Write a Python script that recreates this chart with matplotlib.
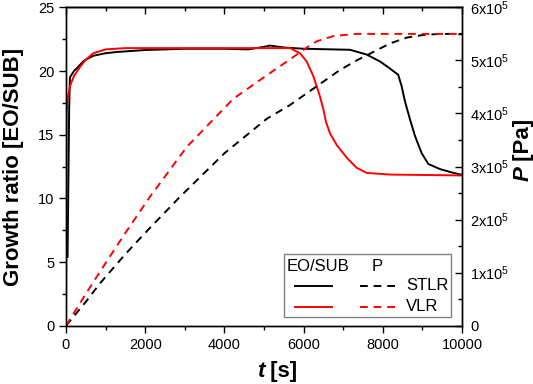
import numpy as np
import matplotlib
matplotlib.use("Agg")
import matplotlib.pyplot as plt
import matplotlib.ticker as mtick
from matplotlib.patches import Rectangle

plt.rcParams['font.family'] = ['Liberation Sans', 'DejaVu Sans']
plt.rcParams['mathtext.fontset'] = 'custom'
plt.rcParams['mathtext.rm'] = 'Liberation Sans'
plt.rcParams['mathtext.it'] = 'Liberation Sans:italic'
plt.rcParams['mathtext.bf'] = 'Liberation Sans:bold'

########## data
# growth ratio, STLR (black solid)
t_stlr = [40, 80, 100, 200, 300, 450, 690, 1000, 1300, 2000, 2500, 3000, 4000, 4600, 5000, 5150,
          5500, 6000, 7170, 7590, 7930, 8180, 8390, 8476, 8561, 8687, 8813, 8981, 9150,
          9444, 9781, 10000]
g_stlr = [5.4, 17.0, 19.5, 20.0, 20.3, 20.8, 21.2, 21.4, 21.5, 21.65, 21.7, 21.75, 21.75, 21.7, 21.9, 22.0,
          21.85, 21.75, 21.67, 21.3, 20.75, 20.2, 19.7, 18.8, 17.6, 16.2, 14.9, 13.55, 12.7,
          12.3, 12.0, 11.85]

# growth ratio, VLR (red solid)
t_vlr = [0, 10, 17, 40, 100, 200, 350, 500, 690, 1000, 1500, 3000, 5000, 5657, 5909, 6077,
         6246, 6414, 6498, 6566, 6667, 6835, 7088, 7340, 7593, 8182, 10000]
g_vlr = [0, 10.0, 16.7, 17.8, 18.8, 19.6, 20.3, 20.9, 21.4, 21.7, 21.8, 21.8, 21.8, 21.8, 21.4, 20.75,
         19.6, 18.0, 17.0, 16.0, 15.1, 14.2, 13.2, 12.4, 12.0, 11.87, 11.8]

# pressure [x1e5 Pa], STLR (black dashed)
tp_stlr = [0, 500, 860, 1500, 2000, 2880, 4000, 5070, 5657, 6077, 6498, 6919, 7340, 7761,
           8182, 8603, 9023, 9444, 10000]
p_stlr = [0, 0.45, 0.8, 1.35, 1.75, 2.43, 3.25, 3.9, 4.16, 4.38, 4.6, 4.82, 5.0, 5.16,
          5.32, 5.43, 5.48, 5.5, 5.5]

# pressure [x1e5 Pa], VLR (red dashed)
tp_vlr = [0, 500, 860, 1500, 2120, 3050, 4230, 5070, 5657, 5993, 6330, 6751, 7340, 10000]
p_vlr = [0, 0.6, 1.02, 1.75, 2.43, 3.37, 4.28, 4.72, 5.02, 5.2, 5.36, 5.46, 5.5, 5.5]

RED = '#ff0000'
LW = 1.4
DASH = (0, (4, 3))

########## figure
fig = plt.figure(figsize=(5.33, 3.84), dpi=100)
ax = fig.add_axes([0.1238, 0.1518, 0.743, 0.829])
ax2 = ax.twinx()

ax.plot(t_stlr, g_stlr, color='black', lw=LW)
ax.plot(t_vlr, g_vlr, color=RED, lw=LW)
ax2.plot(tp_stlr, np.array(p_stlr) * 1e5, color='black', lw=LW, linestyle=DASH)
ax2.plot(tp_vlr, np.array(p_vlr) * 1e5, color=RED, lw=LW, linestyle=DASH)

ax.set_xlim(0, 10000)
ax.set_ylim(0, 25)
ax2.set_ylim(0, 6e5)

ax.xaxis.set_major_locator(mtick.MultipleLocator(2000))
ax.xaxis.set_minor_locator(mtick.MultipleLocator(1000))
ax.yaxis.set_major_locator(mtick.MultipleLocator(5))
ax.yaxis.set_minor_locator(mtick.MultipleLocator(2.5))
ax2.yaxis.set_major_locator(mtick.MultipleLocator(1e5))
ax2.yaxis.set_minor_locator(mtick.MultipleLocator(0.5e5))

def p_fmt(v, pos):
    n = int(round(v / 1e5))
    if n == 0:
        return '0'
    return f'{n}x10$^{{5}}$'
ax2.yaxis.set_major_formatter(mtick.FuncFormatter(p_fmt))

for a in (ax, ax2):
    for s in a.spines.values():
        s.set_linewidth(1.0)

ax.tick_params(which='major', direction='out', length=5, width=1.0, labelsize=10.5)
ax.tick_params(which='minor', direction='out', length=3, width=1.0)
ax2.tick_params(which='major', direction='in', length=5, width=1.0, labelsize=10.5, pad=6)
ax2.tick_params(which='minor', direction='in', length=3, width=1.0)

top = ax.secondary_xaxis('top')
top.xaxis.set_major_locator(mtick.MultipleLocator(2000))
top.xaxis.set_minor_locator(mtick.MultipleLocator(1000))
top.tick_params(which='major', direction='in', length=5, width=1.0, labeltop=False)
top.tick_params(which='minor', direction='in', length=3, width=1.0)
top.spines['top'].set_linewidth(1.0)

ax.set_ylabel('Growth ratio [EO/SUB]', fontsize=16, fontweight='bold', labelpad=10)

# axis labels with italic bold symbols
ax.text(0.5, -0.144, 't', transform=ax.transAxes, fontsize=16,
        fontweight='bold', fontstyle='italic', ha='right', va='center')
ax.text(0.5, -0.144, ' [s]', transform=ax.transAxes, fontsize=16,
        fontweight='bold', ha='left', va='center')
ax2.text(1.155, 0.5, 'P', transform=ax2.transAxes, fontsize=16, fontweight='bold',
         fontstyle='italic', rotation=90, ha='center', va='top')
ax2.text(1.155, 0.5, ' [Pa]', transform=ax2.transAxes, fontsize=16, fontweight='bold',
         rotation=90, ha='center', va='bottom')

########## legend drawn by hand
ax2.add_patch(Rectangle((0.551, 0.027), 0.421, 0.198, transform=ax2.transAxes,
                        facecolor='white', edgecolor='#808080', lw=1.0, zorder=5))
ax2.text(0.556, 0.185, 'EO/SUB', transform=ax2.transAxes, fontsize=12, va='center', zorder=6)
ax2.text(0.772, 0.185, 'P', transform=ax2.transAxes, fontsize=12, va='center', zorder=6)
for yy, col, name in [(0.125, 'black', 'STLR'), (0.060, RED, 'VLR')]:
    ax2.plot([0.578, 0.672], [yy, yy], transform=ax2.transAxes, color=col, lw=LW, zorder=6)
    ax2.plot([0.742, 0.835], [yy, yy], transform=ax2.transAxes, color=col, lw=LW,
             linestyle=DASH, zorder=6)
    ax2.text(0.859, yy, name, transform=ax2.transAxes, fontsize=12, va='center', zorder=6)

fig.savefig('out.png', dpi=100)
